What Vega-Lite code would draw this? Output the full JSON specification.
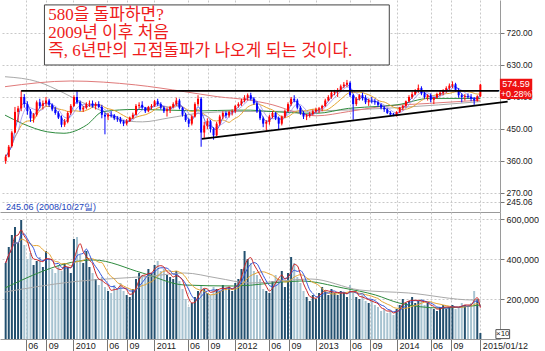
{
"$schema":"https://vega.github.io/schema/vega-lite/v6.json",
"background":"white",
"padding":0,
"spacing":0,
"config":{"view":{"stroke":null},"font":"Liberation Sans","axis":{"labelFont":"Liberation Sans","labelColor":"#222","domainColor":"#9a9a9a","tickColor":"#777"}},
"datasets":{
"px":[
{"t":"2009-03-02","o":360,"h":378,"l":352,"c":372,"v":380000},
{"t":"2009-03-16","o":372,"h":405,"l":370,"c":400,"v":460000},
{"t":"2009-03-30","o":402,"h":445,"l":398,"c":440,"v":520000},
{"t":"2009-04-13","o":440,"h":512,"l":438,"c":498,"v":560000},
{"t":"2009-04-27","o":498,"h":515,"l":470,"c":508,"v":480000},
{"t":"2009-05-11","o":508,"h":558,"l":500,"c":540,"v":595000},
{"t":"2009-05-25","o":540,"h":548,"l":510,"c":520,"v":470000},
{"t":"2009-06-08","o":520,"h":528,"l":490,"c":500,"v":400000},
{"t":"2009-06-22","o":500,"h":506,"l":470,"c":480,"v":430000},
{"t":"2009-07-06","o":480,"h":495,"l":468,"c":490,"v":370000},
{"t":"2009-07-20","o":490,"h":530,"l":485,"c":525,"v":390000},
{"t":"2009-08-03","o":525,"h":535,"l":508,"c":515,"v":410000},
{"t":"2009-08-17","o":515,"h":530,"l":505,"c":522,"v":360000},
{"t":"2009-08-31","o":522,"h":540,"l":515,"c":530,"v":440000},
{"t":"2009-09-14","o":530,"h":535,"l":512,"c":518,"v":400000},
{"t":"2009-09-28","o":518,"h":522,"l":500,"c":505,"v":350000},
{"t":"2009-10-12","o":505,"h":512,"l":490,"c":495,"v":330000},
{"t":"2009-10-26","o":495,"h":500,"l":478,"c":482,"v":370000},
{"t":"2009-11-09","o":482,"h":488,"l":455,"c":462,"v":340000},
{"t":"2009-11-23","o":462,"h":478,"l":456,"c":470,"v":380000},
{"t":"2009-12-07","o":470,"h":500,"l":466,"c":495,"v":360000},
{"t":"2009-12-21","o":495,"h":520,"l":490,"c":515,"v":330000},
{"t":"2010-01-04","o":515,"h":545,"l":512,"c":540,"v":500000},
{"t":"2010-01-18","o":540,"h":556,"l":520,"c":525,"v":510000},
{"t":"2010-02-01","o":525,"h":530,"l":500,"c":505,"v":420000},
{"t":"2010-02-15","o":505,"h":515,"l":498,"c":510,"v":380000},
{"t":"2010-03-01","o":510,"h":525,"l":505,"c":520,"v":440000},
{"t":"2010-03-15","o":520,"h":530,"l":512,"c":522,"v":360000},
{"t":"2010-03-29","o":522,"h":530,"l":510,"c":515,"v":330000},
{"t":"2010-04-12","o":515,"h":525,"l":505,"c":520,"v":300000},
{"t":"2010-04-26","o":520,"h":528,"l":508,"c":512,"v":270000},
{"t":"2010-05-10","o":512,"h":518,"l":480,"c":490,"v":310000},
{"t":"2010-05-24","o":490,"h":495,"l":435,"c":485,"v":260000},
{"t":"2010-06-07","o":485,"h":495,"l":475,"c":490,"v":240000},
{"t":"2010-06-21","o":490,"h":500,"l":482,"c":488,"v":230000},
{"t":"2010-07-05","o":488,"h":492,"l":475,"c":480,"v":270000},
{"t":"2010-07-19","o":480,"h":486,"l":470,"c":478,"v":250000},
{"t":"2010-08-02","o":478,"h":484,"l":465,"c":470,"v":280000},
{"t":"2010-08-16","o":470,"h":475,"l":458,"c":465,"v":240000},
{"t":"2010-08-30","o":465,"h":478,"l":460,"c":472,"v":220000},
{"t":"2010-09-13","o":472,"h":485,"l":470,"c":482,"v":210000},
{"t":"2010-09-27","o":482,"h":496,"l":478,"c":490,"v":250000},
{"t":"2010-10-11","o":490,"h":520,"l":488,"c":515,"v":300000},
{"t":"2010-10-25","o":515,"h":525,"l":508,"c":518,"v":330000},
{"t":"2010-11-08","o":518,"h":528,"l":505,"c":510,"v":320000},
{"t":"2010-11-22","o":510,"h":512,"l":495,"c":500,"v":310000},
{"t":"2010-12-06","o":500,"h":515,"l":497,"c":512,"v":350000},
{"t":"2010-12-20","o":512,"h":520,"l":505,"c":515,"v":330000},
{"t":"2011-01-03","o":515,"h":532,"l":512,"c":528,"v":370000},
{"t":"2011-01-17","o":528,"h":535,"l":515,"c":520,"v":390000},
{"t":"2011-01-31","o":520,"h":525,"l":505,"c":510,"v":340000},
{"t":"2011-02-14","o":510,"h":515,"l":495,"c":500,"v":350000},
{"t":"2011-02-28","o":500,"h":510,"l":485,"c":505,"v":320000},
{"t":"2011-03-14","o":505,"h":515,"l":495,"c":512,"v":310000},
{"t":"2011-03-28","o":512,"h":525,"l":508,"c":520,"v":300000},
{"t":"2011-04-11","o":520,"h":538,"l":515,"c":530,"v":340000},
{"t":"2011-04-25","o":530,"h":535,"l":505,"c":510,"v":290000},
{"t":"2011-05-09","o":510,"h":512,"l":485,"c":490,"v":250000},
{"t":"2011-05-23","o":490,"h":495,"l":470,"c":475,"v":200000},
{"t":"2011-06-06","o":475,"h":480,"l":455,"c":465,"v":160000},
{"t":"2011-06-20","o":465,"h":490,"l":460,"c":485,"v":180000},
{"t":"2011-07-04","o":485,"h":525,"l":482,"c":520,"v":210000},
{"t":"2011-07-18","o":520,"h":545,"l":515,"c":535,"v":240000},
{"t":"2011-08-01","o":535,"h":540,"l":400,"c":440,"v":270000},
{"t":"2011-08-15","o":440,"h":470,"l":425,"c":460,"v":250000},
{"t":"2011-08-29","o":460,"h":480,"l":450,"c":472,"v":230000},
{"t":"2011-09-12","o":472,"h":476,"l":440,"c":450,"v":220000},
{"t":"2011-09-26","o":450,"h":455,"l":420,"c":432,"v":260000},
{"t":"2011-10-10","o":432,"h":470,"l":430,"c":465,"v":250000},
{"t":"2011-10-24","o":465,"h":490,"l":460,"c":485,"v":240000},
{"t":"2011-11-07","o":485,"h":500,"l":478,"c":495,"v":270000},
{"t":"2011-11-21","o":495,"h":500,"l":480,"c":488,"v":250000},
{"t":"2011-12-05","o":488,"h":502,"l":482,"c":498,"v":260000},
{"t":"2011-12-19","o":498,"h":505,"l":488,"c":500,"v":240000},
{"t":"2012-01-02","o":500,"h":518,"l":495,"c":515,"v":280000},
{"t":"2012-01-16","o":515,"h":525,"l":510,"c":520,"v":300000},
{"t":"2012-01-30","o":520,"h":535,"l":515,"c":530,"v":350000},
{"t":"2012-02-13","o":530,"h":545,"l":525,"c":538,"v":440000},
{"t":"2012-02-27","o":538,"h":550,"l":530,"c":545,"v":400000},
{"t":"2012-03-12","o":545,"h":552,"l":530,"c":535,"v":380000},
{"t":"2012-03-26","o":535,"h":540,"l":518,"c":522,"v":340000},
{"t":"2012-04-09","o":522,"h":528,"l":495,"c":500,"v":320000},
{"t":"2012-04-23","o":500,"h":505,"l":475,"c":480,"v":300000},
{"t":"2012-05-07","o":480,"h":485,"l":455,"c":465,"v":250000},
{"t":"2012-05-21","o":465,"h":475,"l":445,"c":470,"v":240000},
{"t":"2012-06-04","o":470,"h":490,"l":462,"c":485,"v":230000},
{"t":"2012-06-18","o":485,"h":500,"l":480,"c":495,"v":290000},
{"t":"2012-07-02","o":495,"h":498,"l":475,"c":480,"v":320000},
{"t":"2012-07-16","o":480,"h":485,"l":450,"c":465,"v":300000},
{"t":"2012-07-30","o":465,"h":488,"l":460,"c":485,"v":340000},
{"t":"2012-08-13","o":485,"h":505,"l":480,"c":500,"v":260000},
{"t":"2012-08-27","o":500,"h":525,"l":498,"c":520,"v":330000},
{"t":"2012-09-10","o":520,"h":540,"l":515,"c":535,"v":410000},
{"t":"2012-09-24","o":535,"h":545,"l":525,"c":530,"v":380000},
{"t":"2012-10-08","o":530,"h":535,"l":505,"c":510,"v":310000},
{"t":"2012-10-22","o":510,"h":515,"l":490,"c":495,"v":280000},
{"t":"2012-11-05","o":495,"h":500,"l":478,"c":485,"v":240000},
{"t":"2012-11-19","o":485,"h":492,"l":475,"c":488,"v":210000},
{"t":"2012-12-03","o":488,"h":498,"l":482,"c":492,"v":190000},
{"t":"2012-12-17","o":492,"h":505,"l":488,"c":500,"v":220000},
{"t":"2012-12-31","o":500,"h":510,"l":495,"c":505,"v":200000},
{"t":"2013-01-14","o":505,"h":512,"l":495,"c":508,"v":230000},
{"t":"2013-01-28","o":508,"h":518,"l":500,"c":515,"v":260000},
{"t":"2013-02-11","o":515,"h":535,"l":512,"c":530,"v":240000},
{"t":"2013-02-25","o":530,"h":545,"l":528,"c":540,"v":220000},
{"t":"2013-03-11","o":540,"h":558,"l":535,"c":552,"v":250000},
{"t":"2013-03-25","o":552,"h":560,"l":545,"c":555,"v":230000},
{"t":"2013-04-08","o":555,"h":565,"l":540,"c":560,"v":220000},
{"t":"2013-04-22","o":560,"h":575,"l":555,"c":570,"v":240000},
{"t":"2013-05-06","o":570,"h":582,"l":565,"c":575,"v":230000},
{"t":"2013-05-20","o":575,"h":588,"l":568,"c":580,"v":210000},
{"t":"2013-06-03","o":580,"h":584,"l":540,"c":545,"v":270000},
{"t":"2013-06-17","o":545,"h":548,"l":476,"c":520,"v":230000},
{"t":"2013-07-01","o":520,"h":540,"l":515,"c":535,"v":210000},
{"t":"2013-07-15","o":535,"h":548,"l":530,"c":545,"v":200000},
{"t":"2013-07-29","o":545,"h":552,"l":530,"c":538,"v":220000},
{"t":"2013-08-12","o":538,"h":545,"l":520,"c":525,"v":190000},
{"t":"2013-08-26","o":525,"h":535,"l":515,"c":530,"v":180000},
{"t":"2013-09-09","o":530,"h":540,"l":522,"c":528,"v":200000},
{"t":"2013-09-23","o":528,"h":535,"l":518,"c":525,"v":170000},
{"t":"2013-10-07","o":525,"h":530,"l":512,"c":518,"v":160000},
{"t":"2013-10-21","o":518,"h":522,"l":505,"c":510,"v":140000},
{"t":"2013-11-04","o":510,"h":515,"l":498,"c":505,"v":150000},
{"t":"2013-11-18","o":505,"h":508,"l":492,"c":495,"v":130000},
{"t":"2013-12-02","o":495,"h":500,"l":488,"c":490,"v":140000},
{"t":"2013-12-16","o":490,"h":495,"l":486,"c":488,"v":120000},
{"t":"2013-12-30","o":488,"h":500,"l":485,"c":498,"v":150000},
{"t":"2014-01-13","o":498,"h":512,"l":495,"c":510,"v":170000},
{"t":"2014-01-27","o":510,"h":518,"l":502,"c":515,"v":200000},
{"t":"2014-02-10","o":515,"h":530,"l":510,"c":528,"v":180000},
{"t":"2014-02-24","o":528,"h":545,"l":525,"c":540,"v":190000},
{"t":"2014-03-10","o":540,"h":555,"l":535,"c":548,"v":210000},
{"t":"2014-03-24","o":548,"h":562,"l":545,"c":558,"v":180000},
{"t":"2014-04-07","o":558,"h":575,"l":552,"c":565,"v":190000},
{"t":"2014-04-21","o":565,"h":570,"l":545,"c":550,"v":200000},
{"t":"2014-05-05","o":550,"h":555,"l":535,"c":540,"v":170000},
{"t":"2014-05-19","o":540,"h":548,"l":530,"c":545,"v":180000},
{"t":"2014-06-02","o":545,"h":550,"l":525,"c":532,"v":160000},
{"t":"2014-06-16","o":532,"h":540,"l":520,"c":538,"v":150000},
{"t":"2014-06-30","o":538,"h":552,"l":535,"c":548,"v":140000},
{"t":"2014-07-14","o":548,"h":558,"l":542,"c":552,"v":160000},
{"t":"2014-07-28","o":552,"h":562,"l":545,"c":558,"v":170000},
{"t":"2014-08-11","o":558,"h":570,"l":552,"c":565,"v":150000},
{"t":"2014-08-25","o":565,"h":578,"l":560,"c":572,"v":160000},
{"t":"2014-09-08","o":572,"h":584,"l":565,"c":576,"v":170000},
{"t":"2014-09-22","o":576,"h":580,"l":555,"c":560,"v":150000},
{"t":"2014-10-06","o":560,"h":565,"l":538,"c":545,"v":160000},
{"t":"2014-10-20","o":545,"h":550,"l":525,"c":540,"v":180000},
{"t":"2014-11-03","o":540,"h":548,"l":530,"c":542,"v":170000},
{"t":"2014-11-17","o":542,"h":550,"l":535,"c":540,"v":160000},
{"t":"2014-12-01","o":540,"h":548,"l":528,"c":535,"v":180000},
{"t":"2014-12-15","o":535,"h":540,"l":518,"c":530,"v":240000},
{"t":"2014-12-29","o":530,"h":545,"l":527,"c":542,"v":200000},
{"t":"2015-01-12","o":542,"h":577,"l":540,"c":574.59,"v":30000}
],
"pma":[
{"t":"2009-02-27","s":"gray","p":597},{"t":"2009-07-24","s":"gray","p":583},{"t":"2009-11-20","s":"gray","p":551},{"t":"2010-02-03","s":"gray","p":527},{"t":"2010-05-16","s":"gray","p":499},{"t":"2010-07-30","s":"gray","p":475},{"t":"2010-11-09","s":"gray","p":470},{"t":"2011-03-08","s":"gray","p":481},{"t":"2011-08-01","s":"gray","p":495},{"t":"2011-12-25","s":"gray","p":499},{"t":"2012-10-16","s":"gray","p":500},{"t":"2014-01-01","s":"gray","p":510},{"t":"2015-01-12","s":"gray","p":527},
{"t":"2009-02-27","s":"red","p":569},{"t":"2009-12-21","s":"red","p":585},{"t":"2010-10-09","s":"red","p":574},{"t":"2011-05-18","s":"red","p":555},{"t":"2011-10-12","s":"red","p":541},{"t":"2012-03-09","s":"red","p":531},{"t":"2012-05-23","s":"red","p":522},{"t":"2013-01-01","s":"red","p":487},{"t":"2013-05-27","s":"red","p":499},{"t":"2013-10-20","s":"red","p":513},{"t":"2014-05-27","s":"red","p":522},{"t":"2015-01-12","s":"red","p":531},
{"t":"2009-02-27","s":"green","p":489},{"t":"2009-05-14","s":"green","p":466},{"t":"2009-09-06","s":"green","p":442},{"t":"2009-11-20","s":"green","p":438},{"t":"2010-03-02","s":"green","p":461},{"t":"2010-05-16","s":"green","p":499},{"t":"2010-10-09","s":"green","p":505},{"t":"2011-03-08","s":"green","p":503},{"t":"2011-08-01","s":"green","p":501},{"t":"2011-12-25","s":"green","p":503},{"t":"2012-03-09","s":"green","p":503},{"t":"2012-05-23","s":"green","p":500},{"t":"2013-01-01","s":"green","p":494},{"t":"2013-05-27","s":"green","p":508},{"t":"2013-10-20","s":"green","p":514},{"t":"2014-01-01","s":"green","p":518},{"t":"2014-05-27","s":"green","p":536},{"t":"2015-01-12","s":"green","p":536}
],
"vma":[
{"t":"2009-02-27","s":"green","v":255000},{"t":"2010-04-02","s":"green","v":395000},{"t":"2010-11-09","s":"green","v":330000},{"t":"2011-05-18","s":"green","v":270000},{"t":"2011-12-25","s":"green","v":265000},{"t":"2012-10-25","s":"green","v":290000},{"t":"2013-05-03","s":"green","v":255000},{"t":"2013-09-26","s":"green","v":220000},{"t":"2014-01-10","s":"green","v":180000},{"t":"2014-07-19","s":"green","v":155000},{"t":"2015-01-12","s":"green","v":170000},
{"t":"2009-02-27","s":"gray","v":235000},{"t":"2009-12-21","s":"gray","v":285000},{"t":"2010-12-23","s":"gray","v":315000},{"t":"2011-05-18","s":"gray","v":330000},{"t":"2011-10-12","s":"gray","v":305000},{"t":"2012-03-09","s":"gray","v":280000},{"t":"2012-12-08","s":"gray","v":300000},{"t":"2013-07-17","s":"gray","v":245000},{"t":"2014-02-23","s":"gray","v":230000},{"t":"2014-12-12","s":"gray","v":195000},{"t":"2015-01-12","s":"gray","v":195000}
],
"tl":[
{"t":"2009-05-11","p":557,"t2":"2015-04-09","p2":557},
{"t":"2011-08-04","p":422,"t2":"2015-05-15","p2":527}
],
"box":[{"t":"2009-08-24","t2":"2013-11-27","p":799,"p2":630}],
"note":[
{"t":"2009-09-10","p":771,"txt":"580을 돌파하면?"},
{"t":"2009-09-10","p":720,"txt":"2009년 이후 처음"},
{"t":"2009-09-10","p":669,"txt":"즉, 6년만의 고점돌파가 나오게 되는 것이다."}
],
"lbl":[{"t":"2015-04-10","t2":"2015-09-03","p":591,"p2":534}],
"lbltxt":[{"t":"2015-06-22","p":577,"txt":"574.59"},{"t":"2015-06-22","p":548,"txt":"(+0.28%)"}],
"low":[{"t":"2009-02-27","p":231,"txt":"245.06 (2008/10/27일)"}],
"unit":[{"t":"2015-03-23","t2":"2015-05-24","v":2000,"v2":47000,"m":"2015-04-23","vm":24500,"txt":"×10"}]
},
"vconcat":[
{
"width":500,"height":212,
"encoding":{"x":{"field":"t","type":"temporal","scale":{"type":"utc","nice":false,"domain":[{"year":2009,"month":2,"date":27,"utc":true},{"year":2015,"month":3,"date":19,"utc":true}]},
"axis":{"orient":"bottom","title":null,"labels":false,"ticks":false,"domain":true,"domainColor":"#9a9a9a","grid":true,"gridDash":[2,2],"gridColor":"#c8c8c8",
"values":[{"year":2009,"month":6,"date":1,"utc":true},{"year":2009,"month":9,"date":1,"utc":true},{"year":2010,"month":1,"date":1,"utc":true},{"year":2010,"month":6,"date":1,"utc":true},{"year":2010,"month":9,"date":1,"utc":true},{"year":2011,"month":1,"date":1,"utc":true},{"year":2011,"month":6,"date":1,"utc":true},{"year":2011,"month":9,"date":1,"utc":true},{"year":2012,"month":1,"date":1,"utc":true},{"year":2012,"month":6,"date":1,"utc":true},{"year":2012,"month":9,"date":1,"utc":true},{"year":2013,"month":1,"date":1,"utc":true},{"year":2013,"month":6,"date":1,"utc":true},{"year":2013,"month":9,"date":1,"utc":true},{"year":2014,"month":1,"date":1,"utc":true},{"year":2014,"month":6,"date":1,"utc":true},{"year":2014,"month":9,"date":1,"utc":true},{"year":2015,"month":1,"date":12,"utc":true}]}}},
"layer":[
{"data":{"name":"pma"},"mark":{"type":"line","strokeWidth":1,"interpolate":"monotone"},
"encoding":{"y":{"field":"p","type":"quantitative","scale":{"domain":[216.5,812.8],"nice":false,"zero":false},
"axis":{"orient":"right","title":null,"values":[720,630,540,450,360,270,245.06],"format":".2f","grid":true,"gridDash":[2,2],"gridColor":"#c8c8c8","tickSize":4,"labelPadding":2,"labelFontSize":8.5,"labelOverlap":false,"labelFlush":false}},
"color":{"field":"s","type":"nominal","scale":{"domain":["gray","red","green"],"range":["#a9a9a9","#e07a7a","#2e8b3e"]},"legend":null}}},
{"data":{"name":"px"},"transform":[{"window":[{"op":"mean","field":"c","as":"m"}],"frame":[-9,0],"sort":[{"field":"t"}]}],
"mark":{"type":"line","strokeWidth":1,"color":"#e5a532","interpolate":"monotone"},
"encoding":{"y":{"field":"m","type":"quantitative","scale":{"domain":[216.5,812.8],"nice":false,"zero":false},"axis":{"orient":"right","title":null,"values":[720,630,540,450,360,270,245.06],"format":".2f","grid":true,"gridDash":[2,2],"gridColor":"#c8c8c8","tickSize":4,"labelPadding":2,"labelFontSize":8.5,"labelOverlap":false,"labelFlush":false}}}},
{"data":{"name":"px"},"transform":[{"window":[{"op":"mean","field":"c","as":"m"}],"frame":[-4,0],"sort":[{"field":"t"}]}],
"mark":{"type":"line","strokeWidth":0.8,"color":"#9a8ee8","interpolate":"monotone"},
"encoding":{"y":{"field":"m","type":"quantitative","scale":{"domain":[216.5,812.8],"nice":false,"zero":false},"axis":{"orient":"right","title":null,"values":[720,630,540,450,360,270,245.06],"format":".2f","grid":true,"gridDash":[2,2],"gridColor":"#c8c8c8","tickSize":4,"labelPadding":2,"labelFontSize":8.5,"labelOverlap":false,"labelFlush":false}}}},
{"data":{"name":"px"},"transform":[{"window":[{"op":"mean","field":"c","as":"m"}],"frame":[-2,0],"sort":[{"field":"t"}]}],
"mark":{"type":"line","strokeWidth":0.8,"color":"#3344dd","interpolate":"monotone"},
"encoding":{"y":{"field":"m","type":"quantitative","scale":{"domain":[216.5,812.8],"nice":false,"zero":false},"axis":{"orient":"right","title":null,"values":[720,630,540,450,360,270,245.06],"format":".2f","grid":true,"gridDash":[2,2],"gridColor":"#c8c8c8","tickSize":4,"labelPadding":2,"labelFontSize":8.5,"labelOverlap":false,"labelFlush":false}}}},
{"data":{"name":"px"},"mark":{"type":"rule","strokeWidth":1},
"encoding":{"y":{"field":"l","type":"quantitative","scale":{"domain":[216.5,812.8],"nice":false,"zero":false},"axis":{"orient":"right","title":null,"values":[720,630,540,450,360,270,245.06],"format":".2f","grid":true,"gridDash":[2,2],"gridColor":"#c8c8c8","tickSize":4,"labelPadding":2,"labelFontSize":8.5,"labelOverlap":false,"labelFlush":false}},"y2":{"field":"h"},
"color":{"condition":{"test":"datum.c >= datum.o","value":"#ff0000"},"value":"#0000ff"}}},
{"data":{"name":"px"},"mark":{"type":"bar","size":2},
"encoding":{"y":{"field":"o","type":"quantitative","scale":{"domain":[216.5,812.8],"nice":false,"zero":false},"axis":{"orient":"right","title":null,"values":[720,630,540,450,360,270,245.06],"format":".2f","grid":true,"gridDash":[2,2],"gridColor":"#c8c8c8","tickSize":4,"labelPadding":2,"labelFontSize":8.5,"labelOverlap":false,"labelFlush":false}},"y2":{"field":"c"},
"color":{"condition":{"test":"datum.c >= datum.o","value":"#ff0000"},"value":"#0000ff"}}},
{"data":{"name":"tl"},"mark":{"type":"rule","strokeWidth":1.8,"color":"#000000","clip":false},
"encoding":{"x2":{"field":"t2"},"y":{"field":"p","type":"quantitative","scale":{"domain":[216.5,812.8],"nice":false,"zero":false},"axis":{"orient":"right","title":null,"values":[720,630,540,450,360,270,245.06],"format":".2f","grid":true,"gridDash":[2,2],"gridColor":"#c8c8c8","tickSize":4,"labelPadding":2,"labelFontSize":8.5,"labelOverlap":false,"labelFlush":false}},"y2":{"field":"p2"}}},
{"data":{"name":"box"},"mark":{"type":"rect","fill":"#ffffff","stroke":"#444444","strokeWidth":1},
"encoding":{"x2":{"field":"t2"},"y":{"field":"p","type":"quantitative","scale":{"domain":[216.5,812.8],"nice":false,"zero":false},"axis":{"orient":"right","title":null,"values":[720,630,540,450,360,270,245.06],"format":".2f","grid":true,"gridDash":[2,2],"gridColor":"#c8c8c8","tickSize":4,"labelPadding":2,"labelFontSize":8.5,"labelOverlap":false,"labelFlush":false}},"y2":{"field":"p2"}}},
{"data":{"name":"note"},"mark":{"type":"text","align":"left","baseline":"middle","fontSize":17,"font":"Liberation Serif, Noto Sans CJK KR","color":"#ee1c1c"},
"encoding":{"y":{"field":"p","type":"quantitative","scale":{"domain":[216.5,812.8],"nice":false,"zero":false},"axis":{"orient":"right","title":null,"values":[720,630,540,450,360,270,245.06],"format":".2f","grid":true,"gridDash":[2,2],"gridColor":"#c8c8c8","tickSize":4,"labelPadding":2,"labelFontSize":8.5,"labelOverlap":false,"labelFlush":false}},"text":{"field":"txt"}}},
{"data":{"name":"low"},"mark":{"type":"text","align":"left","baseline":"middle","fontSize":9,"color":"#2244bb","dx":1},
"encoding":{"y":{"field":"p","type":"quantitative","scale":{"domain":[216.5,812.8],"nice":false,"zero":false},"axis":{"orient":"right","title":null,"values":[720,630,540,450,360,270,245.06],"format":".2f","grid":true,"gridDash":[2,2],"gridColor":"#c8c8c8","tickSize":4,"labelPadding":2,"labelFontSize":8.5,"labelOverlap":false,"labelFlush":false}},"text":{"field":"txt"}}},
{"data":{"name":"lbl"},"mark":{"type":"rect","fill":"#ee1111","clip":false},
"encoding":{"x2":{"field":"t2"},"y":{"field":"p","type":"quantitative","scale":{"domain":[216.5,812.8],"nice":false,"zero":false},"axis":{"orient":"right","title":null,"values":[720,630,540,450,360,270,245.06],"format":".2f","grid":true,"gridDash":[2,2],"gridColor":"#c8c8c8","tickSize":4,"labelPadding":2,"labelFontSize":8.5,"labelOverlap":false,"labelFlush":false}},"y2":{"field":"p2"}}},
{"data":{"name":"lbltxt"},"mark":{"type":"text","align":"center","baseline":"middle","fontSize":9,"color":"#ffffff","clip":false},
"encoding":{"y":{"field":"p","type":"quantitative","scale":{"domain":[216.5,812.8],"nice":false,"zero":false},"axis":{"orient":"right","title":null,"values":[720,630,540,450,360,270,245.06],"format":".2f","grid":true,"gridDash":[2,2],"gridColor":"#c8c8c8","tickSize":4,"labelPadding":2,"labelFontSize":8.5,"labelOverlap":false,"labelFlush":false}},"text":{"field":"txt"}}}
]
},
{
"width":500,"height":127,
"encoding":{"x":{"field":"t","type":"temporal","scale":{"type":"utc","nice":false,"domain":[{"year":2009,"month":2,"date":27,"utc":true},{"year":2015,"month":3,"date":19,"utc":true}]},
"axis":{"orient":"bottom","title":null,"grid":true,"gridDash":[2,2],"gridColor":"#c8c8c8","domainColor":"#9a9a9a","tickSize":12,"tickColor":"#777","labelAlign":"left","labelBaseline":"top","labelPadding":-10,"labelOffset":2,"labelFontSize":9,"labelFlush":false,"labelOverlap":false,"labelBound":false,
"labelExpr":"utcmonth(datum.value)==0 && utcdate(datum.value)==12 ? '2015/01/12' : (utcmonth(datum.value)==0 ? utcFormat(datum.value,'%Y') : utcFormat(datum.value,'%m'))",
"values":[{"year":2009,"month":6,"date":1,"utc":true},{"year":2009,"month":9,"date":1,"utc":true},{"year":2010,"month":1,"date":1,"utc":true},{"year":2010,"month":6,"date":1,"utc":true},{"year":2010,"month":9,"date":1,"utc":true},{"year":2011,"month":1,"date":1,"utc":true},{"year":2011,"month":6,"date":1,"utc":true},{"year":2011,"month":9,"date":1,"utc":true},{"year":2012,"month":1,"date":1,"utc":true},{"year":2012,"month":6,"date":1,"utc":true},{"year":2012,"month":9,"date":1,"utc":true},{"year":2013,"month":1,"date":1,"utc":true},{"year":2013,"month":6,"date":1,"utc":true},{"year":2013,"month":9,"date":1,"utc":true},{"year":2014,"month":1,"date":1,"utc":true},{"year":2014,"month":6,"date":1,"utc":true},{"year":2014,"month":9,"date":1,"utc":true},{"year":2015,"month":1,"date":12,"utc":true}]}}},
"layer":[
{"data":{"name":"px"},"mark":{"type":"bar","size":2},
"encoding":{"y":{"field":"v","type":"quantitative","scale":{"domain":[0,635000],"nice":false},
"axis":{"orient":"right","title":null,"values":[200000,400000,600000],"format":",d","grid":true,"gridDash":[2,2],"gridColor":"#c8c8c8","tickSize":4,"labelPadding":2,"labelFontSize":9}},
"color":{"condition":{"test":"datum.c >= datum.o","value":"#23506f"},"value":"#a7c3d1"}}},
{"data":{"name":"vma"},"mark":{"type":"line","strokeWidth":1,"interpolate":"monotone"},
"encoding":{"y":{"field":"v","type":"quantitative","scale":{"domain":[0,635000],"nice":false},"axis":{"orient":"right","title":null,"values":[200000,400000,600000],"format":",d","grid":true,"gridDash":[2,2],"gridColor":"#c8c8c8","tickSize":4,"labelPadding":2,"labelFontSize":9}},
"color":{"field":"s","type":"nominal","scale":{"domain":["gray","green"],"range":["#a9a9a9","#2e8b3e"]},"legend":null}}},
{"data":{"name":"px"},"transform":[{"window":[{"op":"mean","field":"v","as":"m"}],"frame":[-9,0],"sort":[{"field":"t"}]}],
"mark":{"type":"line","strokeWidth":1,"color":"#e5a532","interpolate":"monotone"},
"encoding":{"y":{"field":"m","type":"quantitative","scale":{"domain":[0,635000],"nice":false},"axis":{"orient":"right","title":null,"values":[200000,400000,600000],"format":",d","grid":true,"gridDash":[2,2],"gridColor":"#c8c8c8","tickSize":4,"labelPadding":2,"labelFontSize":9}}}},
{"data":{"name":"px"},"transform":[{"window":[{"op":"mean","field":"v","as":"m"}],"frame":[-4,0],"sort":[{"field":"t"}]}],
"mark":{"type":"line","strokeWidth":1,"color":"#3355dd","interpolate":"monotone"},
"encoding":{"y":{"field":"m","type":"quantitative","scale":{"domain":[0,635000],"nice":false},"axis":{"orient":"right","title":null,"values":[200000,400000,600000],"format":",d","grid":true,"gridDash":[2,2],"gridColor":"#c8c8c8","tickSize":4,"labelPadding":2,"labelFontSize":9}}}},
{"data":{"name":"px"},"transform":[{"window":[{"op":"mean","field":"v","as":"m"}],"frame":[-2,0],"sort":[{"field":"t"}]}],
"mark":{"type":"line","strokeWidth":1,"color":"#cc2222","interpolate":"monotone"},
"encoding":{"y":{"field":"m","type":"quantitative","scale":{"domain":[0,635000],"nice":false},"axis":{"orient":"right","title":null,"values":[200000,400000,600000],"format":",d","grid":true,"gridDash":[2,2],"gridColor":"#c8c8c8","tickSize":4,"labelPadding":2,"labelFontSize":9}}}},
{"data":{"name":"unit"},"mark":{"type":"rect","fill":"#ffffff","stroke":"#555555","strokeWidth":1,"clip":false},
"encoding":{"x2":{"field":"t2"},"y":{"field":"v","type":"quantitative","scale":{"domain":[0,635000],"nice":false},"axis":{"orient":"right","title":null,"values":[200000,400000,600000],"format":",d","grid":true,"gridDash":[2,2],"gridColor":"#c8c8c8","tickSize":4,"labelPadding":2,"labelFontSize":9}},"y2":{"field":"v2"}}},
{"data":{"name":"unit"},"mark":{"type":"text","align":"center","baseline":"middle","fontSize":8,"color":"#222","clip":false},
"encoding":{"x":{"field":"m","type":"temporal"},"y":{"field":"vm","type":"quantitative","scale":{"domain":[0,635000],"nice":false},"axis":{"orient":"right","title":null,"values":[200000,400000,600000],"format":",d","grid":true,"gridDash":[2,2],"gridColor":"#c8c8c8","tickSize":4,"labelPadding":2,"labelFontSize":9}},"text":{"field":"txt"}}}
]
}
]
}
